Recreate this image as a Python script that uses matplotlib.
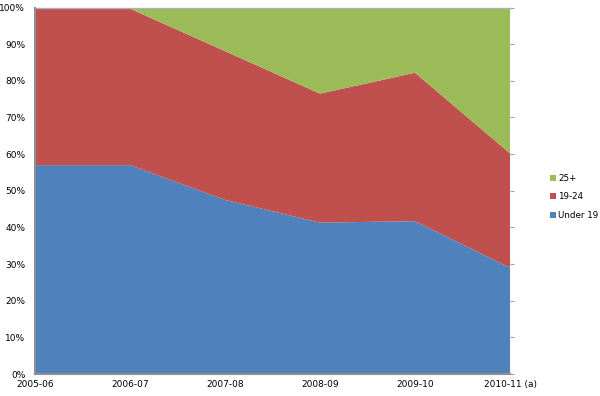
import matplotlib
matplotlib.use("Agg")
import matplotlib.pyplot as plt
from matplotlib.ticker import PercentFormatter

categories = ["2005-06", "2006-07", "2007-08", "2008-09", "2009-10", "2010-11 (a)"]
under19 = [57.0, 57.0, 47.5, 41.3, 41.7, 29.0]
age19_24 = [42.6, 42.7, 40.6, 35.2, 40.5, 31.2]
age25plus = [100 - a - b for a, b in zip(under19, age19_24)]

colors = ["#4F81BD", "#C0504D", "#9BBB59"]
labels = ["Under 19", "19-24", "25+"]

fig = plt.figure(figsize=(6, 3.96), dpi=100)
ax = fig.add_axes([35/600, 1 - 374/396, (510-35)/600, (374-7.5)/396])
x = list(range(len(categories)))
polys = ax.stackplot(x, under19, age19_24, age25plus, colors=colors, labels=labels, linewidth=0)

ax.set_xlim(0, len(categories) - 1)
ax.set_ylim(0, 100)
ax.set_yticks(range(0, 101, 10))
ax.yaxis.set_major_formatter(PercentFormatter(decimals=0))
ax.set_xticks(x)
ax.set_xticklabels(categories)
ax.tick_params(axis="both", labelsize=6.5, length=0, pad=4)
ax.tick_params(axis="y", right=True, length=3, color="#A0A0A0", direction="out", labelright=False, left=False)
for s in ["top", "right"]:
    ax.spines[s].set_visible(False)
for s in ["left", "bottom"]:
    ax.spines[s].set_color("#909090")
    ax.spines[s].set_linewidth(1.5)
ax.axhline(100, color="#B0B0B0", linewidth=1, clip_on=False)

handles, labs = ax.get_legend_handles_labels()
leg = fig.legend(handles[::-1], labs[::-1], loc="center left", bbox_to_anchor=(550/600, 1 - 197/396),
                 frameon=False, fontsize=6.3, handlelength=0.7, handleheight=0.7,
                 handletextpad=0.25, labelspacing=1.05, borderpad=0, borderaxespad=0)

fig.savefig("out.png", dpi=100)
